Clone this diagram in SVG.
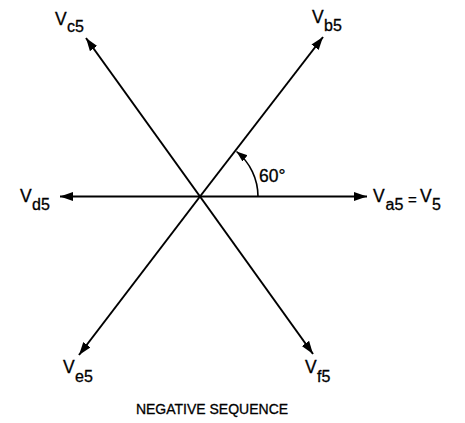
<svg xmlns="http://www.w3.org/2000/svg" width="465" height="423" viewBox="0 0 465 423">
<style>
.v{stroke:#000;stroke-width:2;fill:none;marker-end:url(#ah)}
.arc{stroke:#000;stroke-width:1.6;fill:none;marker-end:url(#ah2)}
text{font-family:"Liberation Sans",Arial,sans-serif;fill:#000;stroke:#000;stroke-width:0.3}
.m{font-size:17.5px}
.s{font-size:16px}
.e{font-size:15px}
.t{font-size:14px}
</style>
<defs>
<marker id="ah" markerUnits="userSpaceOnUse" markerWidth="14" markerHeight="10" refX="13" refY="4.5" orient="auto">
<path d="M0,0 L13,4.5 L0,9 Z" fill="#000"/>
</marker>
<marker id="ah2" markerUnits="userSpaceOnUse" markerWidth="12" markerHeight="9" refX="11" refY="4" orient="auto">
<path d="M0,0 L11,4 L0,8 Z" fill="#000"/>
</marker>
</defs>
<rect width="465" height="423" fill="#fff"/>
<g id="connectors">
<line class="v" x1="200" y1="196.5" x2="367" y2="196.5"/>
<line class="v" x1="200" y1="196.5" x2="323" y2="37"/>
<line class="v" x1="200" y1="196.5" x2="86" y2="38"/>
<line class="v" x1="200" y1="196.5" x2="60" y2="196.5"/>
<line class="v" x1="200" y1="196.5" x2="79" y2="355"/>
<line class="v" x1="200" y1="196.5" x2="313" y2="354"/>
<path class="arc" d="M258,196.5 A58,58 0 0 0 236.5,151.5"/>
</g>
<g id="angle"><text class="m" x="259" y="182">60°</text></g>
<g id="Va5"><text class="m" x="373" y="202">V</text><text class="s" x="385.5" y="210">a5</text><text class="e" x="408" y="205">=</text><text class="m" x="420" y="202">V</text><text class="s" x="432" y="210">5</text></g>
<g id="Vb5"><text class="m" x="312" y="23">V</text><text class="s" x="324" y="31">b5</text></g>
<g id="Vc5"><text class="m" x="55" y="25">V</text><text class="s" x="67" y="32">c5</text></g>
<g id="Vd5"><text class="m" x="20" y="202">V</text><text class="s" x="32" y="210">d5</text></g>
<g id="Ve5"><text class="m" x="63" y="373">V</text><text class="s" x="75" y="382">e5</text></g>
<g id="Vf5"><text class="m" x="305" y="373">V</text><text class="s" x="317" y="382">f5</text></g>
<g id="caption"><text class="t" x="212" y="414" text-anchor="middle">NEGATIVE SEQUENCE</text></g>
</svg>
